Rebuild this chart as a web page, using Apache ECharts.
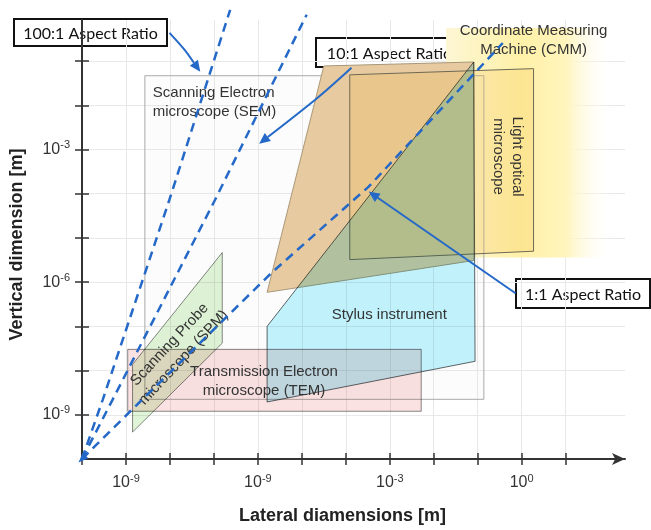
<!DOCTYPE html>
<html>
<head>
<meta charset="utf-8">
<script src="https://cdn.jsdelivr.net/npm/echarts@6/dist/echarts.min.js"></script>
<style>
  html, body { margin: 0; padding: 0; background: #fff; }
  #chart { width: 651px; height: 530px; }
</style>
</head>
<body>
<div id="chart"></div>
<script>
// everything is in log10 of metres
const xTicks = [-10, -9, -8, -7, -6, -5, -4, -3, -2, -1, 0, 1]
const xLabelPos = [-9, -6, -3, 0]
const xLabelExp = ['-9', '-9', '-3', '0']
const yTicks = [-9, -8, -7, -6, -5, -4, -3, -2, -1]
const yLabelPos = [-9, -6, -3]
const yLabelExp = ['-9', '-6', '-3']

// instrument regions  [lateral, vertical]
const cmmRegion = [[-1.72, -5.44], [2.06, -5.44], [2.06, -0.25], [-1.72, -0.25]]
const semRegion = [[-8.57, -8.65], [-0.86, -8.65], [-0.86, -1.33], [-8.57, -1.33]]
const tanRegion = [[-5.79, -6.23], [-4.50, -1.11], [-1.09, -1.02], [-1.09, -5.51]]
const lightRegion = [[-3.91, -1.31], [0.27, -1.17], [0.27, -5.30], [-3.91, -5.49]]
const stylusRegion = [[-5.79, -8.71], [-5.79, -7.0], [-1.09, -1.02], [-1.06, -7.79]]
const temRegion = [[-8.96, -8.92], [-2.285, -8.92], [-2.285, -7.52], [-8.96, -7.52]]
const spmRegion = [[-8.85, -9.39], [-8.85, -7.86], [-6.81, -5.33], [-6.81, -7.38]]

// aspect ratio guides
const ratio1 = [[-10, -10], [-8.85, -8.87], [-5.68, -5.78], [-3.48, -3.84], [-0.43, -0.59]]
const ratio10 = [[-10, -10], [-9.30, -8.65], [-6.97, -4.13], [-4.89, 0.05]]
const ratio100 = [[-10, -10], [-9.525, -8.65], [-8.01, -4.13], [-6.63, 0.16]]

// callout arrows
const arrow100 = [[-8.01, -0.36], [-7.67, -0.74], [-7.31, -1.24]]
const arrow10 = [[-3.87, -1.15], [-4.62, -1.81], [-5.97, -2.87]]
const arrow1 = [[-0.14, -6.25], [-3.48, -3.95]]

const labelText = [
  'Scanning Electron\nmicroscope (SEM)',
  'Coordinate Measuring\nMachine (CMM)',
  'Light optical\nmicroscope',
  'Stylus instrument',
  'Transmission Electron\nmicroscope (TEM)',
  'Scanning Probe\nmicroscope (SPM)'
]
const labelAt = [[-8.39, -1.93], [0.27, -0.54], [-0.32, -3.16], [-3.01, -6.73], [-5.86, -8.24], [-7.85, -7.56]]
const labelAlign = ['left', 'center', 'center', 'center', 'center', 'center']
const labelRotate = [0, 0, -90, 0, 0, 47]

const blue = '#2468c8'
const font = 'Liberation Sans'

const chart = echarts.init(document.getElementById('chart'))

function region(pts, style, blendMode) {
  return {
    type: 'custom',
    silent: true,
    clip: false,
    blendMode: blendMode,
    data: [[pts[0][0], pts[0][1]]],
    renderItem: (params, api) => ({
      type: 'polygon',
      shape: { points: pts.map(p => api.coord(p)) },
      style: style
    })
  }
}

function guide(pts, tip) {
  return {
    type: 'line',
    silent: true,
    clip: false,
    symbol: 'none',
    showSymbol: true,
    data: pts.map((p, i) => (i === 0 && tip)
      ? { value: p, symbol: 'triangle', symbolSize: [8, 10], symbolRotate: 135, itemStyle: { color: blue } }
      : p),
    lineStyle: { color: blue, width: 2.5, type: [9, 6] }
  }
}

function arrow(pts) {
  return {
    type: 'custom',
    silent: true,
    clip: false,
    data: [[pts[0][0], pts[0][1]]],
    renderItem: (params, api) => {
      const p = pts.map(q => api.coord(q))
      const a = p[p.length - 2], b = p[p.length - 1]
      const ang = Math.atan2(b[1] - a[1], b[0] - a[0])
      const L = 11, W = 5
      const base = [b[0] - L * Math.cos(ang), b[1] - L * Math.sin(ang)]
      const head = [b,
        [base[0] + W * Math.sin(ang), base[1] - W * Math.cos(ang)],
        [base[0] - W * Math.sin(ang), base[1] + W * Math.cos(ang)]]
      return {
        type: 'group',
        children: [
          { type: 'polyline', shape: { points: p.slice(0, -1).concat([base]), smooth: 0.3 },
            style: { stroke: blue, lineWidth: 2, fill: null } },
          { type: 'polygon', shape: { points: head }, style: { fill: blue } }
        ]
      }
    }
  }
}

function box(left, top, w, h, text) {
  return {
    type: 'group', left: left, top: top, z: 100,
    children: [
      { type: 'rect', shape: { width: w, height: h }, style: { fill: '#fff', stroke: '#111', lineWidth: 2 } },
      { type: 'text', x: w / 2, y: h / 2 + 1,
        style: { text: text, fontSize: 16, fontFamily: 'Lato', fill: '#111', align: 'center', verticalAlign: 'middle' } }
    ]
  }
}

const supRich = {
  b: { fontSize: 16, fontFamily: font, color: '#333' },
  s: { fontSize: 11, fontFamily: font, color: '#333', padding: [0, 0, 9, 0] }
}

const tickStyle = { color: '#333', width: 1.5 }
const yMax = -0.07

const option = {
  animation: false,
  grid: { left: 79, right: 26, top: 20, bottom: 70 },
  xAxis: [
    {
      type: 'value', min: -10, max: 2.35, position: 'bottom',
      name: 'Lateral diamensions [m]', nameLocation: 'middle', nameGap: 48,
      nameTextStyle: { fontSize: 18, fontWeight: 'bold', fontFamily: font, color: '#222', padding: [0, 22, 0, 0] },
      axisLine: { show: true, onZero: false, lineStyle: { color: '#333', width: 2 }, symbol: ['none', 'arrow'], symbolSize: [9, 13] },
      axisTick: { show: true, inside: true, length: 6, customValues: xTicks, lineStyle: tickStyle },
      axisLabel: {
        customValues: xLabelPos, margin: 14, rich: supRich,
        formatter: v => '{b|10}{s|' + xLabelExp[xLabelPos.indexOf(Math.round(v))] + '}'
      },
      splitLine: { show: true, lineStyle: { color: '#e8e8e8', width: 1 } }
    },
    {
      type: 'value', min: -10, max: 2.35, position: 'bottom',
      axisLine: { show: false, onZero: false },
      axisTick: { show: true, inside: false, length: 6, customValues: xTicks, lineStyle: tickStyle },
      axisLabel: { show: false },
      splitLine: { show: false }
    }
  ],
  yAxis: [
    {
      type: 'value', min: -10, max: yMax, position: 'left',
      name: 'Vertical dimension [m]', nameLocation: 'middle', nameGap: 56, nameRotate: 90,
      nameTextStyle: { fontSize: 18, fontWeight: 'bold', fontFamily: font, color: '#222', padding: [0, 10, 0, 0] },
      axisLine: { show: true, onZero: false, lineStyle: { color: '#333', width: 2 } },
      axisTick: { show: true, inside: true, length: 7, customValues: yTicks, lineStyle: tickStyle },
      axisLabel: {
        customValues: yLabelPos, margin: 12, rich: supRich,
        formatter: v => '{b|10}{s|' + yLabelExp[yLabelPos.indexOf(Math.round(v))] + '}'
      },
      splitLine: { show: true, lineStyle: { color: '#e8e8e8', width: 1 } }
    },
    {
      type: 'value', min: -10, max: yMax, position: 'left',
      axisLine: { show: false, onZero: false },
      axisTick: { show: true, inside: false, length: 7, customValues: yTicks, lineStyle: tickStyle },
      axisLabel: { show: false },
      splitLine: { show: false }
    }
  ],
  series: [
    region(cmmRegion, {
      fill: new echarts.graphic.LinearGradient(0, 0, 1, 0, [
        { offset: 0, color: '#fdf6d4' },
        { offset: 0.45, color: '#fff1a8' },
        { offset: 0.72, color: '#fff4bc' },
        { offset: 1, color: 'rgba(255,255,255,0)' }
      ])
    }),
    region(semRegion, { fill: 'rgba(200,200,200,0.05)', stroke: '#aaa', lineWidth: 1 }),
    region(tanRegion, { fill: 'rgb(231,202,160)', stroke: '#a8987a', lineWidth: 1 }),
    region(lightRegion, { fill: 'rgba(240,188,70,0.22)', stroke: '#6f6a55', lineWidth: 1 }),
    region(stylusRegion, { fill: 'rgb(196,244,254)', stroke: '#666', lineWidth: 1 }, 'multiply'),
    region(temRegion, { fill: 'rgb(251,226,226)', stroke: '#888', lineWidth: 1 }, 'multiply'),
    region(spmRegion, { fill: 'rgb(224,245,216)', stroke: '#888', lineWidth: 1 }, 'multiply'),
    {
      type: 'custom',
      silent: true,
      clip: false,
      data: labelText.map((t, i) => [labelAt[i][0], labelAt[i][1]]),
      renderItem: (params, api) => {
        const i = params.dataIndex
        const pt = api.coord(labelAt[i])
        return {
          type: 'text', x: pt[0], y: pt[1], rotation: labelRotate[i] * Math.PI / 180,
          style: {
            text: labelText[i], fontSize: 15, fontFamily: font, fill: '#333',
            align: labelAlign[i], verticalAlign: 'middle', lineHeight: 19
          }
        }
      }
    },
    guide(ratio1, true),
    guide(ratio10),
    guide(ratio100),
    arrow(arrow100),
    arrow(arrow10),
    arrow(arrow1)
  ],
  graphic: [
    box(13, 18, 153, 27, '100:1 Aspect Ratio'),
    box(315, 37, 147, 29, '10:1 Aspect Ratio'),
    box(515, 278, 134, 29, '1:1 Aspect Ratio')
  ]
}

chart.setOption(option)
</script>
</body>
</html>
